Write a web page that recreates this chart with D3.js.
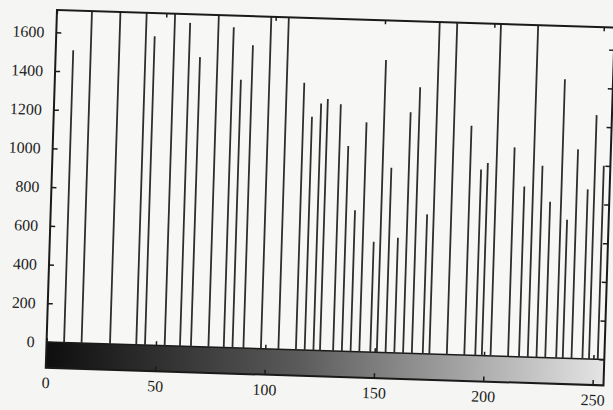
<!DOCTYPE html>
<html>
<head>
<meta charset="utf-8">
<script src="https://cdn.jsdelivr.net/npm/d3@7"></script>
<style>
  body { margin: 0; background: #f5f5f3; }
  svg text { font-family: "Liberation Serif", "DejaVu Serif", serif; font-size: 16px; fill: #1e1e1e; }
</style>
</head>
<body>
<div id="histograma"></div>
<script>
// Niveles de gris (eje x) y número de píxeles de cada nivel
// (los valores de 1800 salen por arriba del gráfico)
const niveles = [8, 16, 29, 41, 45, 54, 61, 66, 74, 81, 85, 90, 98, 106, 114, 118,
    122, 125, 131, 135, 139, 143, 148, 151, 155, 159, 163, 167, 172, 175, 183, 191,
    196, 199, 203, 211, 216, 220, 224, 228, 233, 236, 240, 245, 248, 252];
const cuentas = [1510, 1800, 1800, 1800, 1595, 1800, 1670, 1495, 1800, 1655, 1385, 1565, 1800, 1800, 1380, 1205,
    1275, 1300, 1275, 1060, 730, 1185, 570, 1510, 955, 595, 1245, 1375, 720, 1800, 1800, 1185,
    960, 995, 1800, 1080, 880, 1800, 990, 805, 1440, 715, 1080, 875, 1260, 1000];
const ticksX = [0, 50, 100, 150, 200, 250];
const ticksY = [0, 200, 400, 600, 800, 1000, 1200, 1400, 1600];

const datos = niveles.map((n, i) => ({ nivel: n, cuenta: cuentas[i] }));

const svgWidth = 613, svgHeight = 410;
const width = 558, height = 358;

const svg = d3.select("#histograma")
    .append("svg")
    .attr("width", svgWidth)
    .attr("height", svgHeight);

// la hoja escaneada está un poco girada
const g = svg.append("g")
    .attr("transform", "translate(57, 10) rotate(1.8)");

const x = d3.scaleLinear()
    .domain([0, 255])
    .range([0, width]);

const y = d3.scaleLinear()
    .domain([-134, 1715])
    .range([height, 0]);

const defs = svg.append("defs");
defs.append("clipPath")
    .attr("id", "area")
    .append("rect")
    .attr("width", width)
    .attr("height", height);

const grad = defs.append("linearGradient")
    .attr("id", "grises")
    .attr("x1", 0).attr("x2", 1).attr("y1", 0).attr("y2", 0);
grad.append("stop").attr("offset", 0).attr("stop-color", "#0e0e0e");
grad.append("stop").attr("offset", 0.45).attr("stop-color", "#5a5a5a");
grad.append("stop").attr("offset", 1).attr("stop-color", "#e4e4e4");

// Fondo
g.append("rect")
    .attr("width", width)
    .attr("height", height)
    .attr("fill", "#f7f7f5");

// Barra de grises debajo del cero
g.append("rect")
    .attr("x", x(0))
    .attr("y", y(0))
    .attr("width", x(255) - x(0))
    .attr("height", y(-134) - y(0))
    .attr("fill", "url(#grises)");

g.append("line")
    .attr("x1", 0).attr("x2", width)
    .attr("y1", y(0)).attr("y2", y(0))
    .attr("stroke", "#1a1a1a")
    .attr("stroke-width", 1.5);

// Impulsos
g.append("g")
    .attr("clip-path", "url(#area)")
    .selectAll("line")
    .data(datos)
    .join("line")
    .attr("x1", d => x(d.nivel))
    .attr("x2", d => x(d.nivel))
    .attr("y1", y(0))
    .attr("y2", d => y(d.cuenta))
    .attr("stroke", "#2e2e2e")
    .attr("stroke-width", 1.8);

// Eje X
g.append("g")
    .attr("transform", `translate(0, ${height})`)
    .call(d3.axisBottom(x).tickValues(ticksX).tickSizeInner(-5).tickSizeOuter(0).tickPadding(9));

// marcas sobre la barra
g.append("g")
    .attr("transform", `translate(0, ${y(0)})`)
    .call(d3.axisTop(x).tickValues(ticksX).tickSizeInner(4).tickSizeOuter(0).tickFormat(""));

// Eje Y
g.append("g")
    .call(d3.axisLeft(y).tickValues(ticksY).tickFormat(d3.format("d")).tickSizeInner(-5).tickSizeOuter(0).tickPadding(12));

// espejos arriba y a la derecha
g.append("g")
    .call(d3.axisTop(x).tickValues(ticksX).tickSizeInner(-4).tickSizeOuter(0).tickFormat(""));
g.append("g")
    .attr("transform", `translate(${width}, 0)`)
    .call(d3.axisRight(y).tickValues(ticksY).tickSizeInner(-5).tickSizeOuter(0).tickFormat(""));

g.selectAll(".domain").remove();
g.selectAll(".tick line").attr("stroke", "#1a1a1a").attr("stroke-width", 1.5);

// Marco
g.append("rect")
    .attr("width", width)
    .attr("height", height)
    .attr("fill", "none")
    .attr("stroke", "#1a1a1a")
    .attr("stroke-width", 2);
</script>
</body>
</html>
